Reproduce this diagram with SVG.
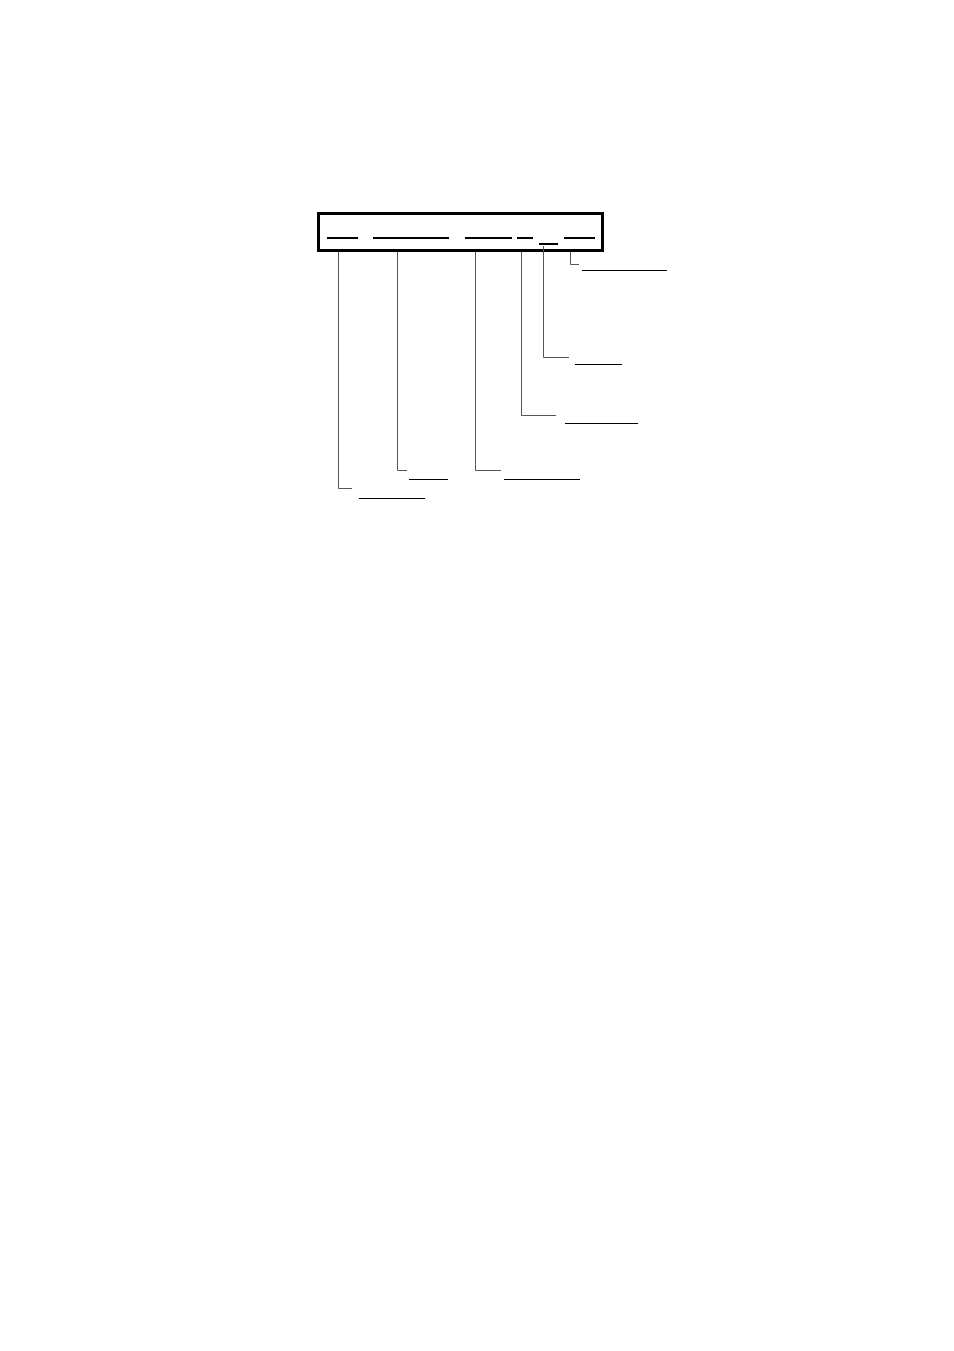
<svg xmlns="http://www.w3.org/2000/svg" width="954" height="1351" viewBox="0 0 954 1351">
<style>
.box{fill:none;stroke:#000;stroke-width:3}
.seg{stroke:#000;stroke-width:2;fill:none}
.lead{stroke:#555;stroke-width:1;fill:none}
.ul{stroke:#000;stroke-width:1.2;fill:none}
</style>
<rect width="954" height="1351" fill="#fff"/>
<g id="code-box">
<rect class="box" x="318.5" y="213.5" width="284" height="37"/>
<line class="seg" x1="327" y1="238" x2="358" y2="238"/>
<line class="seg" x1="373" y1="238" x2="449" y2="238"/>
<line class="seg" x1="465" y1="238" x2="512" y2="238"/>
<line class="seg" x1="517" y1="238" x2="533" y2="238"/>
<line class="seg" x1="539" y1="244" x2="558" y2="244"/>
<line class="seg" x1="564" y1="238" x2="595" y2="238"/>
</g>
<g id="connectors">
<polyline class="lead" points="338.5,252 338.5,488.5 352,488.5"/>
<polyline class="lead" points="397.5,252 397.5,470.5 407,470.5"/>
<polyline class="lead" points="475.5,252 475.5,470.5 501,470.5"/>
<polyline class="lead" points="521.5,252 521.5,415.5 556,415.5"/>
<polyline class="lead" points="543.5,246 543.5,357.5 569,357.5"/>
<polyline class="lead" points="570.5,252 570.5,264.5 579,264.5"/>
</g>
<g id="label-1"><line class="ul" x1="359" y1="498.5" x2="425" y2="498.5"/></g>
<g id="label-2"><line class="ul" x1="409" y1="479.5" x2="448" y2="479.5"/></g>
<g id="label-3"><line class="ul" x1="504" y1="479.5" x2="580" y2="479.5"/></g>
<g id="label-4"><line class="ul" x1="565" y1="423.5" x2="638" y2="423.5"/></g>
<g id="label-5"><line class="ul" x1="575" y1="364.5" x2="622" y2="364.5"/></g>
<g id="label-6"><line class="ul" x1="582" y1="270.5" x2="667" y2="270.5"/></g>
</svg>
